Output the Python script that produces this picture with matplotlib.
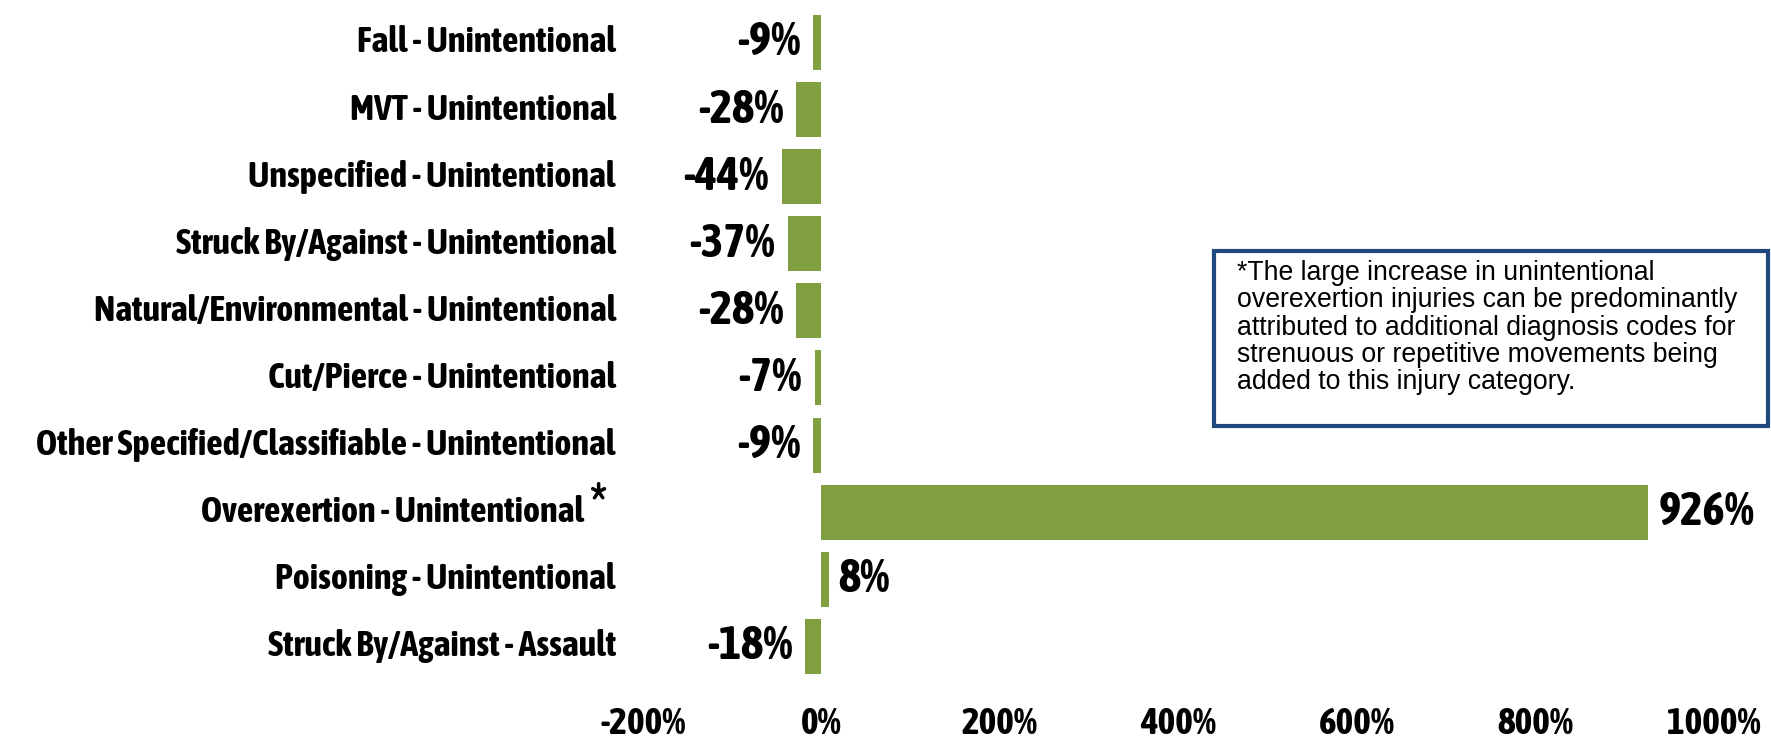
import matplotlib
matplotlib.use("Agg")
import matplotlib.pyplot as plt
from matplotlib import font_manager as fm
from matplotlib.patches import Rectangle

categories = [
    "Fall - Unintentional",
    "MVT - Unintentional",
    "Unspecified - Unintentional",
    "Struck By/Against - Unintentional",
    "Natural/Environmental - Unintentional",
    "Cut/Pierce - Unintentional",
    "Other Specified/Classifiable - Unintentional",
    "Overexertion - Unintentional",
    "Poisoning - Unintentional",
    "Struck By/Against - Assault",
]
values = [-9, -28, -44, -37, -28, -7, -9, 926, 8, -18]
xticks = [-200, 0, 200, 400, 600, 800, 1000]
note = ("*The large increase in unintentional\n"
        "overexertion injuries can be predominantly\n"
        "attributed to additional diagnosis codes for\n"
        "strenuous or repetitive movements being\n"
        "added to this injury category.")

# pick a narrow bold font if one is installed
def is_bold(f):
    w = f.weight
    if isinstance(w, str):
        return w in ("bold", "heavy", "black", "extra bold", "semibold", "demibold")
    return w >= 600

bold_cond = sorted({f.name for f in fm.fontManager.ttflist
                    if ("Narrow" in f.name or "Condensed" in f.name) and is_bold(f)})
narrow = bold_cond[:1] + ["Roboto", "DejaVu Sans"]
label_font = dict(family=narrow, fontweight="bold")

green = "#809F41"

fig = plt.figure(figsize=(17.71, 7.39), dpi=100)
ax = fig.add_axes([0.363, 0.080, 0.605, 0.908])

y = list(range(len(categories)))
ax.barh(y, values, height=0.82, color=green)
ax.set_ylim(len(categories) - 0.5, -0.5)
ax.set_xlim(-200, 1000)
ax.set_xticks(xticks)
ax.set_xticklabels([f"{t}%" for t in xticks], fontsize=27, **label_font)
ax.tick_params(axis="x", length=0, pad=19)
ax.set_yticks([])
for s in ax.spines.values():
    s.set_visible(False)

# category labels, drawn by hand so the asterisk fits
for i, cat in enumerate(categories):
    shift = -27
    if cat.startswith("Overexertion"):
        shift = -59
        ax.annotate("*", xy=(0, i), xycoords=("axes fraction", "data"),
                    xytext=(-44, 6), textcoords="offset pixels",
                    ha="center", va="center", fontsize=42, **label_font)
    ax.annotate(cat, xy=(0, i), xycoords=("axes fraction", "data"),
                xytext=(shift, 0), textcoords="offset pixels",
                ha="right", va="center", fontsize=26, **label_font)

# value labels
for i, v in enumerate(values):
    if v < 0:
        ax.annotate(f"{v}%", xy=(v, i), xytext=(-13, 0),
                    textcoords="offset pixels", ha="right", va="center",
                    fontsize=34, **label_font)
    else:
        ax.annotate(f"{v}%", xy=(v, i), xytext=(10, 0),
                    textcoords="offset pixels", ha="left", va="center",
                    fontsize=34, **label_font)

# note box
fig.patches.append(Rectangle((0.6855, 0.4235), 0.3128, 0.2368,
                             transform=fig.transFigure, fill=False,
                             edgecolor="#1F497D", linewidth=3))
fig.text(0.6985, 0.648, note, ha="left", va="top", fontsize=19.2,
         family="Liberation Sans", linespacing=1.06)

fig.savefig("out.png", dpi=100)
